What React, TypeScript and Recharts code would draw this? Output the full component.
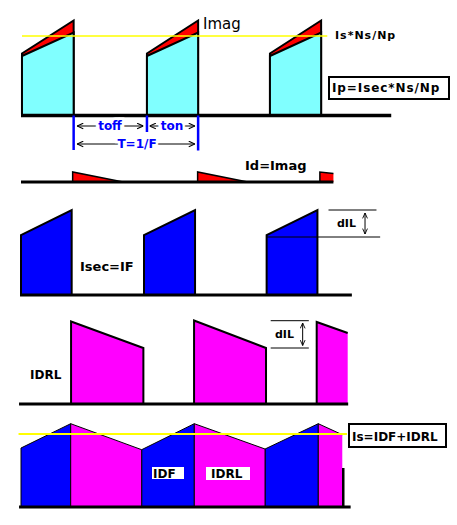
import React from 'react';
import { ComposedChart, Area, XAxis, YAxis, ReferenceLine } from 'recharts';

// Time axis: one switching period T = 10 units. Currents in arbitrary units.
// Panel 1: primary current Ip (cyan = Isec*Ns/Np part, red = magnetising part)
const ipTime = [0.08, 0.08, 4.28, 4.28, 10.24, 10.24, 14.4, 14.4, 20.24, 20.24, 24.4, 24.4];
const ipReflected = [0, 5.95, 8.3, 0, 0, 5.95, 8.3, 0, 0, 5.95, 8.3, 0];
const ipTotal = [0, 6.2, 9.5, 0, 0, 6.2, 9.5, 0, 0, 6.2, 9.5, 0];
const isReflectedLevel = 7.95;

// Panel 2: demagnetising current Id = Imag
const idTime = [4.2, 4.2, 8.3, 14.36, 14.36, 18.43, 24.3, 24.3, 25.4];
const idValues = [0, 1.0, 0, 0, 1.0, 0, 0, 1.0, 0.85];

// Panel 3: secondary current Isec = IF
const isecTime = [0, 0, 4.12, 4.12, 10, 10, 14.15, 14.15, 19.97, 19.97, 24.1, 24.1];
const isecValues = [0, 6.0, 8.5, 0, 0, 6.0, 8.5, 0, 0, 6.0, 8.5, 0];

// Panel 4: freewheel diode current IDRL
const idrlTime = [4.07, 4.07, 9.95, 9.95, 14.07, 14.07, 19.92, 19.92, 24.04, 24.04, 26.56];
const idrlValues = [0, 8.25, 5.6, 0, 0, 8.35, 5.6, 0, 0, 8.2, 7.1];

// Panel 5: Is = IDF + IDRL
const idfTime = [0, 0, 4.04, 4.04, 9.81, 9.81, 14.09, 14.09, 19.84, 19.84, 24.17, 24.17];
const idfValues = [0, 5.9, 8.33, 0, 0, 5.73, 8.33, 0, 0, 5.8, 8.33, 0];
const idrl2Time = [4.04, 4.04, 9.81, 9.81, 14.09, 14.09, 19.84, 19.84, 24.17, 24.17, 26.12];
const idrl2Values = [0, 8.33, 5.73, 0, 0, 8.33, 5.8, 0, 0, 8.33, 7.23];
const isAverageLevel = 7.3;

const zip = (t: number[], v: number[]) => t.map((x, i) => ({ t: x, v: v[i] }));

const W = 457;
const H = 525;
const X0 = 21; // px of t = 0
const PX_T = 12.3; // px per time unit
const PX_I = 10; // px per current unit
const T_MIN = -X0 / PX_T;
const T_MAX = (W - X0) / PX_T;
const yDomain = (basePx: number): [number, number] => [(basePx - H) / PX_I, basePx / PX_I];

const FONT = '"DejaVu Sans", Verdana, sans-serif';

const seg = (x1: number, y1: number, x2: number, y2: number) => [
  { x: x1, y: y1 },
  { x: x2, y: y2 },
];

export default function App() {
  return (
    <div style={{ position: 'absolute', left: 0, top: 0, width: W, height: H, background: '#fff' }}>
      <svg width={0} height={0} style={{ position: 'absolute' }}>
        <defs>
          <marker id="arr" viewBox="0 0 10 10" refX="10" refY="5" markerWidth="7" markerHeight="7"
            markerUnits="userSpaceOnUse" orient="auto-start-reverse">
            <path d="M1,1 L10,5 L1,9" fill="none" stroke="#000" strokeWidth="1.5" />
          </marker>
          <marker id="arrs" viewBox="0 0 10 10" refX="10" refY="5" markerWidth="6" markerHeight="6"
            markerUnits="userSpaceOnUse" orient="auto-start-reverse">
            <path d="M1,1 L10,5 L1,9" fill="none" stroke="#000" strokeWidth="1.5" />
          </marker>
        </defs>
      </svg>
      <ComposedChart width={W} height={H} margin={{ top: 0, right: 0, bottom: 0, left: 0 }}>
        <XAxis type="number" dataKey="t" domain={[T_MIN, T_MAX]} hide allowDataOverflow />
        <YAxis yAxisId="p1" type="number" domain={yDomain(115.5)} hide allowDataOverflow />
        <YAxis yAxisId="p2" type="number" domain={yDomain(182)} hide allowDataOverflow />
        <YAxis yAxisId="p3" type="number" domain={yDomain(295)} hide allowDataOverflow />
        <YAxis yAxisId="p4" type="number" domain={yDomain(404)} hide allowDataOverflow />
        <YAxis yAxisId="p5" type="number" domain={yDomain(507)} hide allowDataOverflow />

        {/* Panel 1 */}
        <Area yAxisId="p1" data={zip(ipTime, ipTotal)} dataKey="v" type="linear" baseValue={0}
          fill="#ff0000" fillOpacity={1} stroke="#000" strokeWidth={2} isAnimationActive={false} dot={false} activeDot={false} />
        <Area yAxisId="p1" data={zip(ipTime, ipReflected)} dataKey="v" type="linear" baseValue={0}
          fill="#80ffff" fillOpacity={1} stroke="#000" strokeWidth={2} isAnimationActive={false} dot={false} activeDot={false} />

        {/* Panel 2 */}
        <Area yAxisId="p2" data={zip(idTime, idValues)} dataKey="v" type="linear" baseValue={0}
          fill="#ff0000" fillOpacity={1} stroke="#000" strokeWidth={1.5} isAnimationActive={false} dot={false} activeDot={false} />

        {/* Panel 3 */}
        <Area yAxisId="p3" data={zip(isecTime, isecValues)} dataKey="v" type="linear" baseValue={0}
          fill="#0000ff" fillOpacity={1} stroke="#000" strokeWidth={2} isAnimationActive={false} dot={false} activeDot={false} />

        {/* Panel 4 */}
        <Area yAxisId="p4" data={zip(idrlTime, idrlValues)} dataKey="v" type="linear" baseValue={0}
          fill="#ff00ff" fillOpacity={1} stroke="#000" strokeWidth={2} isAnimationActive={false} dot={false} activeDot={false} />

        {/* Panel 5 */}
        <Area yAxisId="p5" data={zip(idfTime, idfValues)} dataKey="v" type="linear" baseValue={0}
          fill="#0000ff" fillOpacity={1} stroke="#000" strokeWidth={1} isAnimationActive={false} dot={false} activeDot={false} />
        <Area yAxisId="p5" data={zip(idrl2Time, idrl2Values)} dataKey="v" type="linear" baseValue={0}
          fill="#ff00ff" fillOpacity={1} stroke="#000" strokeWidth={1} isAnimationActive={false} dot={false} activeDot={false} />

        {/* baselines */}
        <ReferenceLine yAxisId="p1" segment={seg(0.0, 0, 30.1, 0)} stroke="#000" strokeWidth={3.5} ifOverflow="visible" />
        <ReferenceLine yAxisId="p2" segment={seg(0.0, 0, 25.4, 0)} stroke="#000" strokeWidth={3} ifOverflow="visible" />
        <ReferenceLine yAxisId="p3" segment={seg(-0.08, 0, 26.9, 0)} stroke="#000" strokeWidth={3} ifOverflow="visible" />
        <ReferenceLine yAxisId="p4" segment={seg(-0.16, 0, 26.6, 0)} stroke="#000" strokeWidth={3} ifOverflow="visible" />
        <ReferenceLine yAxisId="p5" segment={seg(-0.16, 0, 26.8, 0)} stroke="#000" strokeWidth={3} ifOverflow="visible" />

        {/* yellow reference levels */}
        <ReferenceLine yAxisId="p1" segment={seg(0.08, isReflectedLevel, 24.9, isReflectedLevel)} stroke="#ffff00" strokeWidth={1.5} ifOverflow="visible" />
        <ReferenceLine yAxisId="p5" segment={seg(-0.2, isAverageLevel, 26.5, isAverageLevel)} stroke="#ffff00" strokeWidth={2} ifOverflow="visible" />

        {/* timing markers */}
        <ReferenceLine yAxisId="p1" segment={seg(4.28, 0, 4.28, -3.45)} stroke="#0000ff" strokeWidth={2.5} ifOverflow="visible" />
        <ReferenceLine yAxisId="p1" segment={seg(10.24, 0, 10.24, -1.65)} stroke="#0000ff" strokeWidth={2.5} ifOverflow="visible" />
        <ReferenceLine yAxisId="p1" segment={seg(14.4, 0, 14.4, -3.5)} stroke="#0000ff" strokeWidth={2.5} ifOverflow="visible" />
        <ReferenceLine yAxisId="p1" segment={seg(4.55, -1.05, 9.95, -1.05)} stroke="#000" strokeWidth={1}
          markerStart="url(#arr)" markerEnd="url(#arr)" ifOverflow="visible" />
        <ReferenceLine yAxisId="p1" segment={seg(10.45, -1.05, 14.15, -1.05)} stroke="#000" strokeWidth={1}
          markerStart="url(#arr)" markerEnd="url(#arr)" ifOverflow="visible" />
        <ReferenceLine yAxisId="p1" segment={seg(4.55, -2.85, 14.15, -2.85)} stroke="#000" strokeWidth={1}
          markerStart="url(#arr)" markerEnd="url(#arr)" ifOverflow="visible" />

        {/* dIL annotations */}
        <ReferenceLine yAxisId="p3" segment={seg(25.0, 8.5, 28.9, 8.5)} stroke="#000" strokeWidth={1} ifOverflow="visible" />
        <ReferenceLine yAxisId="p3" segment={seg(19.97, 5.8, 29.2, 5.8)} stroke="#000" strokeWidth={1} ifOverflow="visible" />
        <ReferenceLine yAxisId="p3" segment={seg(27.97, 8.2, 27.97, 6.1)} stroke="#000" strokeWidth={1}
          markerStart="url(#arrs)" markerEnd="url(#arrs)" ifOverflow="visible" />
        <ReferenceLine yAxisId="p4" segment={seg(20.3, 8.33, 23.4, 8.33)} stroke="#000" strokeWidth={1} ifOverflow="visible" />
        <ReferenceLine yAxisId="p4" segment={seg(20.3, 5.6, 23.4, 5.6)} stroke="#000" strokeWidth={1} ifOverflow="visible" />
        <ReferenceLine yAxisId="p4" segment={seg(22.9, 8.1, 22.9, 5.85)} stroke="#000" strokeWidth={1}
          markerStart="url(#arrs)" markerEnd="url(#arrs)" ifOverflow="visible" />

        {/* end marker in sum panel */}
        <ReferenceLine yAxisId="p5" segment={seg(26.2, 0, 26.2, 3.9)} stroke="#000" strokeWidth={2.5} ifOverflow="visible" />
      </ComposedChart>

      <svg width={W} height={H} style={{ position: 'absolute', left: 0, top: 0, pointerEvents: 'none' }}
        fontFamily={FONT}>
        <text x={203} y={29} fontSize={15} fill="#000">Imag</text>
        <text x={335} y={39} fontSize={11} fontWeight="bold" letterSpacing={1} fill="#000">Is*Ns/Np</text>

        <rect x={329} y={77} width={120} height={22} fill="#fff" stroke="#000" strokeWidth={2} />
        <text x={332} y={92} fontSize={12} fontWeight="bold" letterSpacing={0.9} fill="#000">Ip=Isec*Ns/Np</text>

        <text x={110} y={130} fontSize={12} fontWeight="bold" fill="#0000ff" textAnchor="middle"
          stroke="#fff" strokeWidth={5} paintOrder="stroke">toff</text>
        <text x={172} y={130} fontSize={12} fontWeight="bold" fill="#0000ff" textAnchor="middle"
          stroke="#fff" strokeWidth={5} paintOrder="stroke">ton</text>
        <text x={137} y={147.5} fontSize={12} fontWeight="bold" fill="#0000ff" textAnchor="middle"
          stroke="#fff" strokeWidth={5} paintOrder="stroke">T=1/F</text>

        <text x={245} y={170} fontSize={13} fontWeight="bold" fill="#000">Id=Imag</text>
        <text x={80} y={271} fontSize={13} fontWeight="bold" fill="#000">Isec=IF</text>
        <text x={337} y={227} fontSize={11} fontWeight="bold" fill="#000">dIL</text>
        <text x={30} y={379} fontSize={12} fontWeight="bold" fill="#000">IDRL</text>
        <text x={275} y={338} fontSize={11} fontWeight="bold" fill="#000">dIL</text>

        <rect x={152} y={467} width={32} height={12} fill="#fff" />
        <text x={153} y={478} fontSize={12} fontWeight="bold" fill="#000">IDF</text>
        <rect x={206} y={467} width={44} height={13} fill="#fff" />
        <text x={211} y={478} fontSize={12} fontWeight="bold" fill="#000">IDRL</text>

        <rect x={349} y={424} width={97} height={23} fill="#fff" stroke="#000" strokeWidth={2} />
        <text x={352} y={440.5} fontSize={12} fontWeight="bold" fill="#000">Is=IDF+IDRL</text>
      </svg>
    </div>
  );
}
